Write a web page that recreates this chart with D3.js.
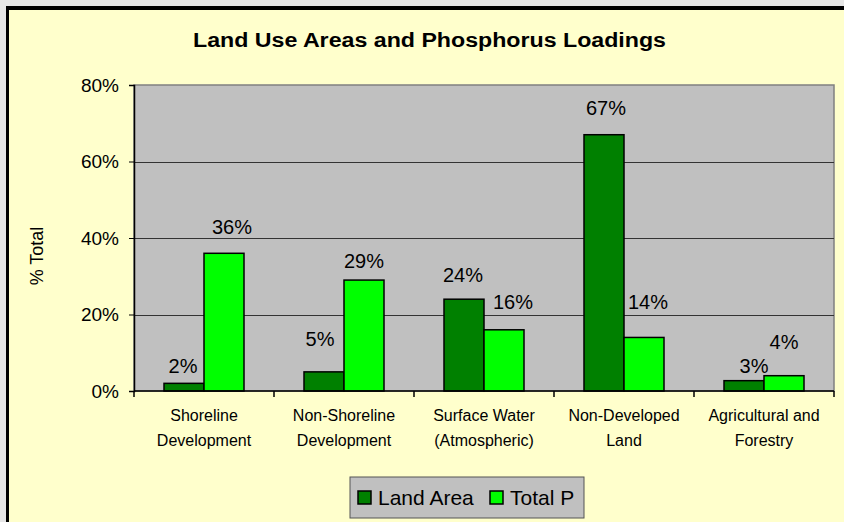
<!doctype html>
<html>
<head>
<meta charset="utf-8">
<script src="https://cdn.jsdelivr.net/npm/d3@7/dist/d3.min.js"></script>
<style>
body { margin: 0; background: #e6e6e6; }
text { font-family: Arial, "Liberation Sans", sans-serif; fill: #000; }
</style>
</head>
<body>
<script>
var categories = [["Shoreline", "Development"], ["Non-Shoreline", "Development"],
  ["Surface Water", "(Atmospheric)"], ["Non-Developed", "Land"], ["Agricultural and", "Forestry"]];
var series = ["Land Area", "Total P"];
var landArea = [0.02, 0.05, 0.24, 0.67, 0.027];
var totalP = [0.36, 0.29, 0.16, 0.14, 0.04];
var yTicks = [0, 0.2, 0.4, 0.6, 0.8];
var colors = ["#008000", "#00ff00"];

// hand-placed label nudges from the original (dx from bar centre, gap above bar top)
var labelDx = [[-1, -4, -1, 2, 10], [8, 0, 9, 4, 0]];
var labelGap = [[10, 26, 17, 20, 8], [19, 12, 21, 28, 27]];

var W = 844, H = 522;
var svg = d3.select("body").append("svg").attr("width", W).attr("height", H);

// chart background + border
svg.append("rect").attr("x", 6).attr("y", 6).attr("width", W).attr("height", H)
  .style("fill", "#000");
svg.append("rect").attr("x", 9).attr("y", 10).attr("width", W).attr("height", H)
  .style("fill", "#ffffcc");

var plot = {left: 134, top: 85, right: 834, bottom: 391};

var x = d3.scaleBand().domain(d3.range(categories.length))
  .range([plot.left, plot.right]);
var y = d3.scaleLinear().domain([0, 0.8]).range([plot.bottom, plot.top]);
var barW = 40, inner = (x.bandwidth() - 2 * barW) / 2;

svg.append("rect")
  .attr("x", plot.left).attr("y", plot.top)
  .attr("width", plot.right - plot.left).attr("height", plot.bottom - plot.top)
  .style("fill", "#c0c0c0").style("stroke", "#808080").style("stroke-width", 1.5);

svg.append("g").selectAll("line").data(yTicks.slice(1, -1)).join("line")
  .attr("x1", plot.left).attr("x2", plot.right)
  .attr("y1", d => Math.round(y(d)) + 0.5).attr("y2", d => Math.round(y(d)) + 0.5)
  .style("stroke", "#333").style("stroke-width", 1);

svg.append("text").attr("x", 193).attr("y", 47)
  .attr("textLength", 473).attr("lengthAdjust", "spacingAndGlyphs")
  .style("font-weight", "bold").style("font-size", "20px")
  .text("Land Use Areas and Phosphorus Loadings");

// bars
var data = [landArea, totalP];
data.forEach((vals, s) => {
  svg.append("g").selectAll("rect").data(vals).join("rect")
    .attr("x", (d, i) => x(i) + inner + s * barW)
    .attr("y", d => y(d))
    .attr("width", barW)
    .attr("height", d => plot.bottom - y(d))
    .style("fill", colors[s]).style("stroke", "#000").style("stroke-width", 1.5);

  svg.append("g").selectAll("text").data(vals).join("text")
    .attr("x", (d, i) => x(i) + inner + s * barW + barW / 2 + labelDx[s][i])
    .attr("y", (d, i) => y(d) - labelGap[s][i])
    .attr("text-anchor", "middle")
    .style("font-size", "20px")
    .text(d => d3.format(".0%")(d));
});

// y axis
var yAxis = svg.append("g").attr("transform", "translate(" + plot.left + ",0)")
  .call(d3.axisLeft(y).tickValues(yTicks).tickFormat(d3.format(".0%")).tickSize(5).tickPadding(10));
yAxis.select(".domain").attr("stroke", "#000").attr("stroke-width", 1.5);
yAxis.selectAll("text").style("font-size", "19px").style("font-family", "Arial, sans-serif").attr("fill", "#000");

// x axis
var xb = svg.append("g");
xb.append("line").attr("x1", plot.left).attr("x2", plot.right)
  .attr("y1", plot.bottom).attr("y2", plot.bottom)
  .style("stroke", "#000").style("stroke-width", 1.5);
xb.selectAll("line.tk").data(d3.range(categories.length + 1)).join("line").attr("class", "tk")
  .attr("x1", i => plot.left + i * x.step()).attr("x2", i => plot.left + i * x.step())
  .attr("y1", plot.bottom).attr("y2", plot.bottom + 6)
  .style("stroke", "#000").style("stroke-width", 1.5);
xb.selectAll("text").data(categories).join("text")
  .attr("text-anchor", "middle")
  .attr("transform", (d, i) => "translate(" + (x(i) + x.bandwidth() / 2) + ",0)")
  .style("font-size", "16px")
  .selectAll("tspan").data(d => d).join("tspan")
  .attr("x", 0).attr("y", (d, j) => 421 + j * 25)
  .text(d => d);

svg.append("text")
  .attr("transform", "translate(43,256) rotate(-90)")
  .attr("text-anchor", "middle").style("font-size", "18px").text("% Total");

// legend
var lg = svg.append("g").attr("transform", "translate(350,477)");
lg.append("rect").attr("width", 234).attr("height", 41)
  .style("fill", "#c0c0c0").style("stroke", "#555").style("stroke-width", 1);
var items = lg.selectAll("g").data(series).join("g")
  .attr("transform", (d, i) => "translate(" + (8 + i * 132) + ",0)");
items.append("rect").attr("y", 14).attr("width", 13).attr("height", 13)
  .style("fill", (d, i) => colors[i]).style("stroke", "#000").style("stroke-width", 1.5);
items.append("text").attr("x", 20).attr("y", 28).style("font-size", "21px").text(d => d);
</script>
</body>
</html>
